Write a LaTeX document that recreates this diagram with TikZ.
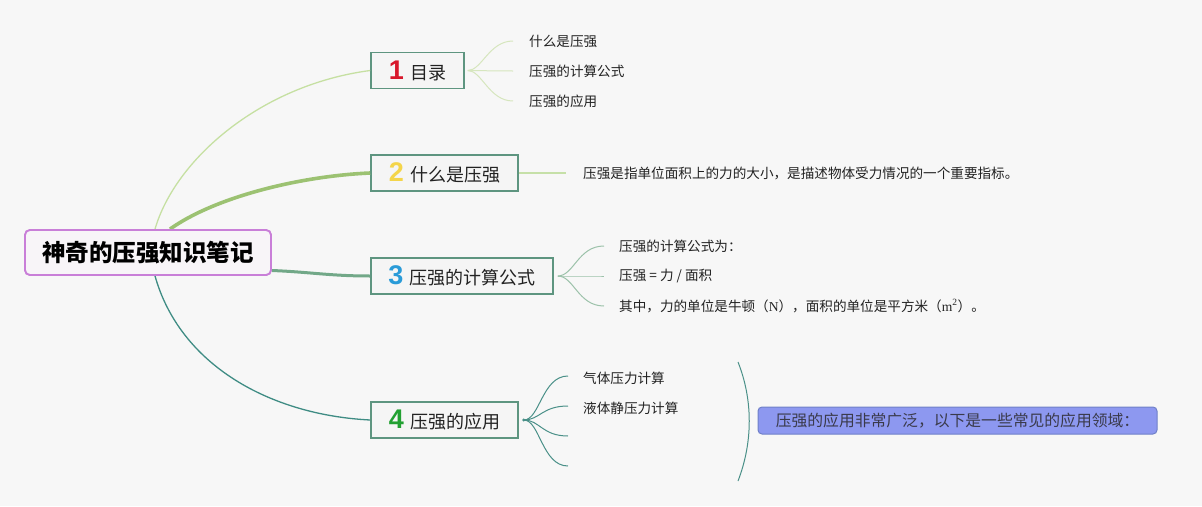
\documentclass[tikz,border=0pt]{standalone}
\usepackage{fontspec}
\setmainfont{Noto Sans CJK SC}
\newfontfamily\digitfont{Liberation Sans}
\newfontfamily\latinserif{Liberation Serif}
\usetikzlibrary{calc}
\definecolor{bg}{HTML}{F7F7F7}
\definecolor{boxline}{HTML}{5E9580}
\definecolor{boxfill}{HTML}{F5F5F5}
\definecolor{rootline}{HTML}{C97FD8}
\definecolor{rootfill}{HTML}{F8F5F8}
\definecolor{txt}{HTML}{222222}
\definecolor{cA}{HTML}{C6E0A2}
\definecolor{cB}{HTML}{9CC272}
\definecolor{cC}{HTML}{72A888}
\definecolor{cD}{HTML}{3F8C84}
\definecolor{fanA}{HTML}{D6E6BE}
\definecolor{fanB}{HTML}{C6E0A8}
\definecolor{fanC}{HTML}{9CC2AA}
\definecolor{fanD}{HTML}{4A9088}
\definecolor{nred}{HTML}{D8182C}
\definecolor{nyellow}{HTML}{F4D54A}
\definecolor{nblue}{HTML}{2A9BD8}
\definecolor{ngreen}{HTML}{22A032}
\definecolor{appfill}{HTML}{8D98F0}
\definecolor{appline}{HTML}{6F80C8}
\definecolor{apptext}{HTML}{3A3A4A}
\newcommand\bignum[2]{{\digitfont\bfseries\fontsize{27}{27}\selectfont\color{#1}#2}}
\begin{document}
\begin{tikzpicture}[x=1pt,y=-1pt,
  topic/.style={draw=boxline, line width=1.6pt, fill=boxfill, minimum height=36pt, inner sep=0pt,
    font=\fontsize{18}{20}\selectfont, text=txt},
  rootbox/.style={draw=rootline, line width=1.8pt, fill=rootfill, rounded corners=5pt,
    minimum width=246pt, minimum height=45pt, inner sep=0pt,
    font=\bfseries\fontsize{23.5}{26}\selectfont, text=black},
  subtext/.style={anchor=west, inner sep=0pt, font=\fontsize{13.6}{16}\selectfont, text=txt},
  appbox/.style={draw=appline, line width=1pt, fill=appfill, rounded corners=4pt,
    minimum width=399pt, minimum height=27pt, inner sep=0pt,
    font=\fontsize{15.8}{18}\selectfont, text=apptext},
  fan/.style={line width=1pt}
]
\fill[bg] (0,0) rectangle (1202,506);
\useasboundingbox (0,0) rectangle (1202,506);

% root and topics
\node[rootbox] (root) at (148,252.5) {神奇的压强知识笔记};
\node[topic, minimum width=93pt] (t1) at (417.5,70.5) {\bignum{nred}{1}\hspace{6pt}目录};
\node[topic, minimum width=147pt] (t2) at (444.5,173) {\bignum{nyellow}{2}\hspace{6pt}什么是压强};
\node[topic, minimum width=182pt] (t3) at (462,276) {\bignum{nblue}{3}\hspace{6pt}压强的计算公式};
\node[topic, minimum width=147pt] (t4) at (444.5,420) {\bignum{ngreen}{4}\hspace{6pt}压强的应用};

% main connectors
\draw[cA, line width=1.3pt] ([xshift=7pt]root.north) .. controls (175,160) and (260,85) .. (t1.west);
\draw[cB, line width=3.6pt] ([xshift=22pt]root.north) .. controls (215,197) and (300,176) .. (t2.west);
\draw[cC, line width=3pt] ([yshift=-18pt]root.east) .. controls (310,272) and (330,276) .. (t3.west);
\draw[cD, line width=1.3pt] ([xshift=7pt]root.south) .. controls (180,365) and (270,415) .. (t4.west);

% root box again on top of its connector ends
\node[rootbox] at (root) {神奇的压强知识笔记};

% branch 1
\node[subtext] (s11) at (529,41) {什么是压强};
\node[subtext] (s12) at (529,71) {压强的计算公式};
\node[subtext] (s13) at (529,101) {压强的应用};
\coordinate (f1) at ([xshift=3pt]t1.east);
\coordinate (e11) at (513,41);
\coordinate (e12) at (513,71);
\coordinate (e13) at (513,101);
\foreach \e in {e11,e12,e13}
  \draw[fanA, fan] (f1) .. controls +(14,0) and +(-24,0) .. (\e);

% branch 2
\coordinate (e21) at (566,173);
\draw[fanB, line width=1.3pt] (t2.east) -- (e21);
\node[subtext] (s21) at (583,173) {压强是指单位面积上的力的大小，是描述物体受力情况的一个重要指标。};

% branch 3
\coordinate (f3) at ([xshift=4pt]t3.east);
\coordinate (e31) at (604,246);
\coordinate (e32) at (604,276);
\coordinate (e33) at (604,306);
\foreach \e in {e31,e32,e33}
  \draw[fanC, fan] (f3) .. controls +(16,0) and +(-26,0) .. (\e);
\node[subtext] (s31) at (619,246) {压强的计算公式为：};
\node[subtext] (s32) at (619,276) {压强 = 力 / 面积};
\node[subtext] (s33) at (619,306) {其中，力的单位是牛顿（{\latinserif N}），面积的单位是平方米（{\latinserif m\textsuperscript{2}}）。};

% branch 4
\coordinate (f4) at ([xshift=5pt]t4.east);
\coordinate (e41) at (568,376);
\coordinate (e42) at (568,406);
\coordinate (e43) at (568,436);
\coordinate (e44) at (568,466);
\foreach \e in {e41,e42,e43,e44}
  \draw[fanD, fan] (f4) .. controls +(16,0) and +(-26,0) .. (\e);
\fill[fanD] (f4) circle (1.6pt);
\node[subtext] (s41) at (583,378) {气体压力计算};
\node[subtext] (s42) at (583,408) {液体静压力计算};

% bracket and summary
\coordinate (b1) at (738,362);
\coordinate (b2) at (738,481);
\draw[fanD, line width=1pt] (b1) .. controls (753,400) and (753,442) .. (b2);
\node[appbox] (apps) at (957.5,420.5) {压强的应用非常广泛，以下是一些常见的应用领域：};
\end{tikzpicture}
\end{document}
